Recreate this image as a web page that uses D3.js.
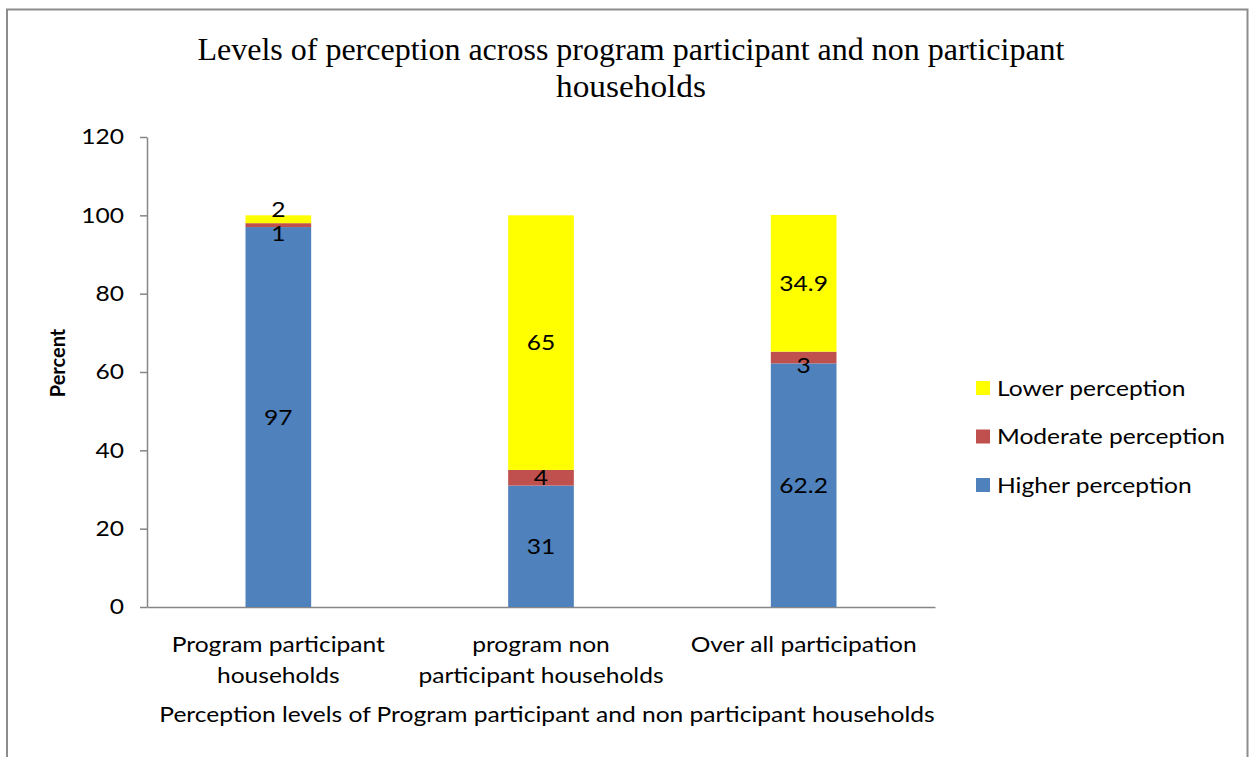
<!DOCTYPE html>
<html>
<head>
<meta charset="utf-8">
<script src="https://cdn.jsdelivr.net/npm/d3@7"></script>
<style>
  html, body { margin: 0; padding: 0; background: #fff; }
  svg { display: block; }
</style>
</head>
<body>
<svg id="chart" width="1252" height="757"></svg>
<script>
// ---- Data ----
const categories = [
  ["Program participant", "households"],
  ["program non", "participant households"],
  ["Over all participation"]
];
const categoryKeys = ["Program participant households", "program non participant households", "Over all participation"];
const seriesNames = ["Higher perception", "Moderate perception", "Lower perception"];
const higherPerception = [97, 31, 62.2];
const moderatePerception = [1, 4, 3];
const lowerPerception = [2, 65, 34.9];
const yTicks = [0, 20, 40, 60, 80, 100, 120];
const titleLines = ["Levels of perception across program participant and non participant", "households"];
const yAxisTitle = "Percent";
const xAxisTitle = "Perception levels of Program participant and non participant households";

const colors = {
  "Higher perception": "#4f81bd",
  "Moderate perception": "#c0504d",
  "Lower perception": "#ffff00"
};

const svg = d3.select("#chart");
const font = "Lato, 'Open Sans', sans-serif";
const widen = 1.17; // Calibri-like width relative to Lato

function stretch(sel) {
  sel.each(function () {
    const w = this.getComputedTextLength();
    if (w > 0) d3.select(this).attr("textLength", w * widen).attr("lengthAdjust", "spacingAndGlyphs");
  });
}

// Frame
svg.append("rect").attr("x", 7).attr("y", 9.5).attr("width", 1240.5).attr("height", 760)
  .attr("fill", "none").attr("stroke", "#8c8c8c").attr("stroke-width", 2);

const margin = { left: 147, right: 935, top: 137, bottom: 607 };
const x = d3.scaleBand().domain(categoryKeys).range([margin.left, margin.right]).paddingInner(0.75).paddingOuter(0.375);
const y = d3.scaleLinear().domain([0, 120]).range([margin.bottom, margin.top]);

const rows = categoryKeys.map((c, i) => ({
  cat: c,
  "Higher perception": higherPerception[i],
  "Moderate perception": moderatePerception[i],
  "Lower perception": lowerPerception[i]
}));
const stack = d3.stack().keys(seriesNames)(rows);

// Title
const title = svg.append("g");
titleLines.forEach((t, i) => {
  const el = title.append("text")
    .attr("x", 631).attr("y", i === 0 ? 60 : 97)
    .attr("text-anchor", "middle")
    .attr("font-family", "'Liberation Serif', 'Times New Roman', serif")
    .attr("font-size", 31).attr("fill", "#000")
    .text(t);
  if (i === 0) el.attr("textLength", 867).attr("lengthAdjust", "spacingAndGlyphs");
  else el.attr("textLength", 150).attr("lengthAdjust", "spacingAndGlyphs");
});

// Y axis
const yAxis = svg.append("g").attr("transform", `translate(${margin.left},0)`)
  .call(d3.axisLeft(y).tickValues(yTicks).tickSize(7).tickPadding(16).tickSizeOuter(0));
yAxis.select(".domain").attr("stroke", "#868686").attr("stroke-width", 1.5);
yAxis.selectAll(".tick line").attr("stroke", "#868686").attr("stroke-width", 1.5);
yAxis.selectAll(".tick text").attr("font-family", font).attr("font-size", 21).attr("fill", "#000").call(stretch);

// X axis
const xAxis = svg.append("g").attr("transform", `translate(0,${margin.bottom})`)
  .call(d3.axisBottom(x).tickSize(0).tickSizeOuter(0).tickFormat(""));
xAxis.select(".domain").attr("stroke", "#868686").attr("stroke-width", 1.5);

// Category labels
categoryKeys.forEach((c, i) => {
  const lines = categories[i];
  lines.forEach((ln, j) => {
    svg.append("text")
      .attr("x", x(c) + x.bandwidth() / 2)
      .attr("y", 652 + j * 31)
      .attr("text-anchor", "middle")
      .attr("font-family", font).attr("font-size", 21).attr("fill", "#000")
      .text(ln).call(stretch);
  });
});

// Bars
const layers = svg.append("g").selectAll("g").data(stack).join("g")
  .attr("fill", d => colors[d.key]);
layers.selectAll("rect").data(d => d).join("rect")
  .attr("x", d => x(d.data.cat))
  .attr("width", x.bandwidth())
  .attr("y", d => y(d[1]))
  .attr("height", d => y(d[0]) - y(d[1]));

// Data labels
const labelGroup = svg.append("g");
stack.forEach(layer => {
  layer.forEach((d, i) => {
    let cy = (y(d[0]) + y(d[1])) / 2;
    const h = y(d[0]) - y(d[1]);
    if (h < 12) {
      // small segments: nudge apart (top one up, lower one down)
      if (layer.key === "Lower perception") cy -= 10;
      else if (layer.key === "Moderate perception") cy += 8;
    }
    labelGroup.append("text")
      .attr("x", x(d.data.cat) + x.bandwidth() / 2)
      .attr("y", cy)
      .attr("dy", "0.36em")
      .attr("text-anchor", "middle")
      .attr("font-family", font).attr("font-size", 21).attr("fill", "#000")
      .text(d[1] - d[0] === 0 ? "" : d.data[layer.key]).call(stretch);
  });
});

// Y axis title
svg.append("text")
  .attr("transform", "translate(65,363) rotate(-90)")
  .attr("text-anchor", "middle")
  .attr("font-family", font).attr("font-size", 20).attr("font-weight", "bold").attr("fill", "#000")
  .text(yAxisTitle);

// X axis title
svg.append("text")
  .attr("x", 547).attr("y", 722)
  .attr("text-anchor", "middle")
  .attr("font-family", font).attr("font-size", 21).attr("fill", "#000")
  .text(xAxisTitle).call(stretch);

// Legend
const legendItems = ["Lower perception", "Moderate perception", "Higher perception"];
const legend = svg.append("g");
legendItems.forEach((k, i) => {
  const cy = 388 + i * 48.5;
  legend.append("rect").attr("x", 976).attr("y", cy - 7).attr("width", 14).attr("height", 14).attr("fill", colors[k]);
  legend.append("text").attr("x", 997).attr("y", cy).attr("dy", "0.36em")
    .attr("font-family", font).attr("font-size", 21).attr("fill", "#000").text(k).call(stretch);
});
</script>
</body>
</html>
